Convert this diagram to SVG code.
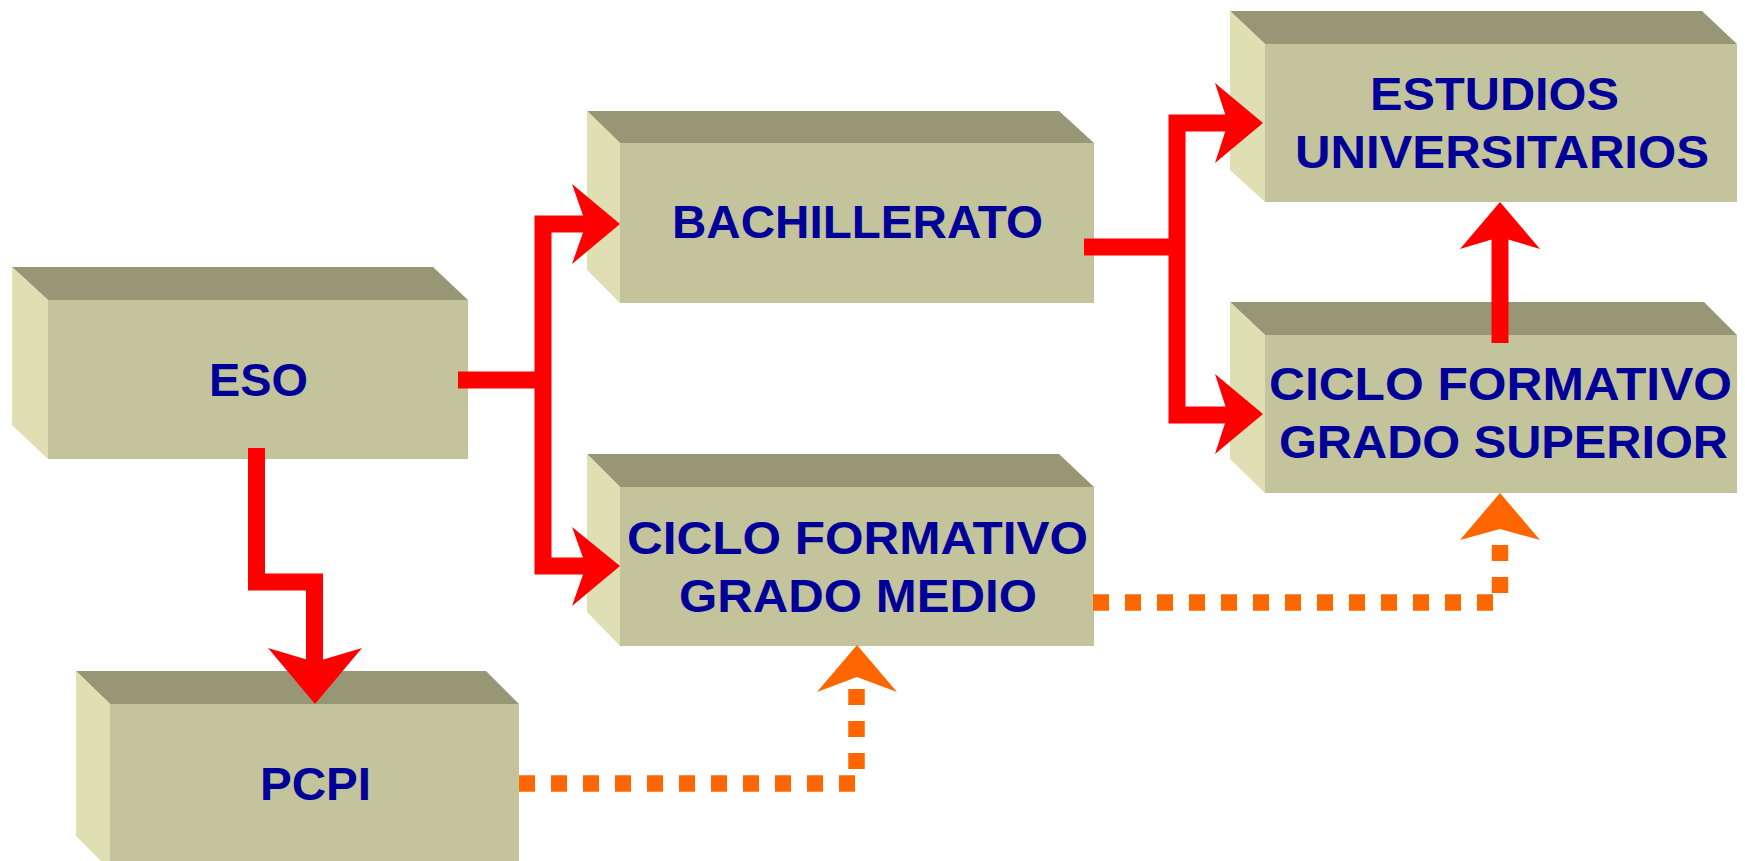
<svg xmlns="http://www.w3.org/2000/svg" width="1745" height="861" viewBox="0 0 1745 861">
<style>
.top{fill:#989775}
.side{fill:#e0dfb4}
.front{fill:#c4c49c}
.lbl{font-family:"Liberation Sans",Arial,sans-serif;font-weight:bold;font-size:46px;fill:#000099;text-anchor:middle}
.red{fill:none;stroke:#ff0000;stroke-width:17;stroke-linejoin:miter;stroke-linecap:butt}
.redh{fill:#ff0000}
.dot{fill:none;stroke:#ff6600;stroke-width:16.5;stroke-dasharray:16 16;stroke-linecap:butt}
.orh{fill:#ff6600}
</style>
<rect width="1745" height="861" fill="#ffffff"/>
<g id="eso">
<polygon class="top" points="12,267 433,267 468,300 48,300"/>
<polygon class="side" points="12,267 48,300 48,459 12,425"/>
<rect class="front" x="48" y="300" width="420" height="159"/>
<text class="lbl" x="258.5" y="396" textLength="99" lengthAdjust="spacingAndGlyphs">ESO</text>
</g>
<g id="bachillerato">
<polygon class="top" points="587,111 1059,111 1094,143 620,143"/>
<polygon class="side" points="587,111 620,143 620,303 587,270"/>
<rect class="front" x="620" y="143" width="474" height="160"/>
<text class="lbl" x="857.5" y="238" textLength="371" lengthAdjust="spacingAndGlyphs">BACHILLERATO</text>
</g>
<g id="cf-medio">
<polygon class="top" points="587,454 1059,454 1094,487 620,487"/>
<polygon class="side" points="587,454 620,487 620,646 587,612"/>
<rect class="front" x="620" y="487" width="474" height="159"/>
<text class="lbl" x="857.5" y="554" textLength="461" lengthAdjust="spacingAndGlyphs">CICLO FORMATIVO</text>
<text class="lbl" x="858" y="612" textLength="358" lengthAdjust="spacingAndGlyphs">GRADO MEDIO</text>
</g>
<g id="estudios">
<polygon class="top" points="1230,11 1702,11 1737,44 1265,44"/>
<polygon class="side" points="1230,11 1265,44 1265,202 1230,170"/>
<rect class="front" x="1265" y="44" width="472" height="158"/>
<text class="lbl" x="1494.5" y="110" textLength="249" lengthAdjust="spacingAndGlyphs">ESTUDIOS</text>
<text class="lbl" x="1502" y="168" textLength="414" lengthAdjust="spacingAndGlyphs">UNIVERSITARIOS</text>
</g>
<g id="cf-superior">
<polygon class="top" points="1230,302 1704,302 1737,335 1265,335"/>
<polygon class="side" points="1230,302 1265,335 1265,493 1230,459"/>
<rect class="front" x="1265" y="335" width="472" height="158"/>
<text class="lbl" x="1500.5" y="400" textLength="463" lengthAdjust="spacingAndGlyphs">CICLO FORMATIVO</text>
<text class="lbl" x="1503.5" y="458" textLength="449" lengthAdjust="spacingAndGlyphs">GRADO SUPERIOR</text>
</g>
<g id="pcpi">
<polygon class="top" points="76,671 486,671 519,704 110,704"/>
<polygon class="side" points="76,671 110,704 110,870 76,836"/>
<rect class="front" x="110" y="704" width="409" height="166"/>
<text class="lbl" x="315.5" y="800" textLength="111" lengthAdjust="spacingAndGlyphs">PCPI</text>
</g>
<g id="connectors">
<path class="red" d="M458,380 H543"/>
<path class="red" d="M588,224 H543 V566 H588"/>
<polygon class="redh" points="620,224 572,184 586,224 572,264"/>
<polygon class="redh" points="620,566 572,527 586,566 572,606"/>
<path class="red" d="M256.5,448 V582 H314.5 V665"/>
<polygon class="redh" points="315,704 268,648 315,662 362,648"/>
<path class="red" d="M1084,247 H1177"/>
<path class="red" d="M1230,123 H1177 V415 H1230"/>
<polygon class="redh" points="1263,123 1215,83 1228,123 1215,163"/>
<polygon class="redh" points="1263,414 1215,374 1228,414 1215,454"/>
<path class="red" d="M1500,343 V235"/>
<polygon class="redh" points="1500,202 1460,249 1500,237 1540,249"/>
<path class="dot" d="M519,783.5 H855"/>
<path class="dot" d="M856.5,769 V688"/>
<polygon class="orh" points="857,645 817,692 857,677 897,692"/>
<path class="dot" d="M1093,602.5 H1493"/>
<path class="dot" d="M1500,593 V544"/>
<polygon class="orh" points="1500,493 1460,540 1500,529 1540,540"/>
</g>
</svg>
